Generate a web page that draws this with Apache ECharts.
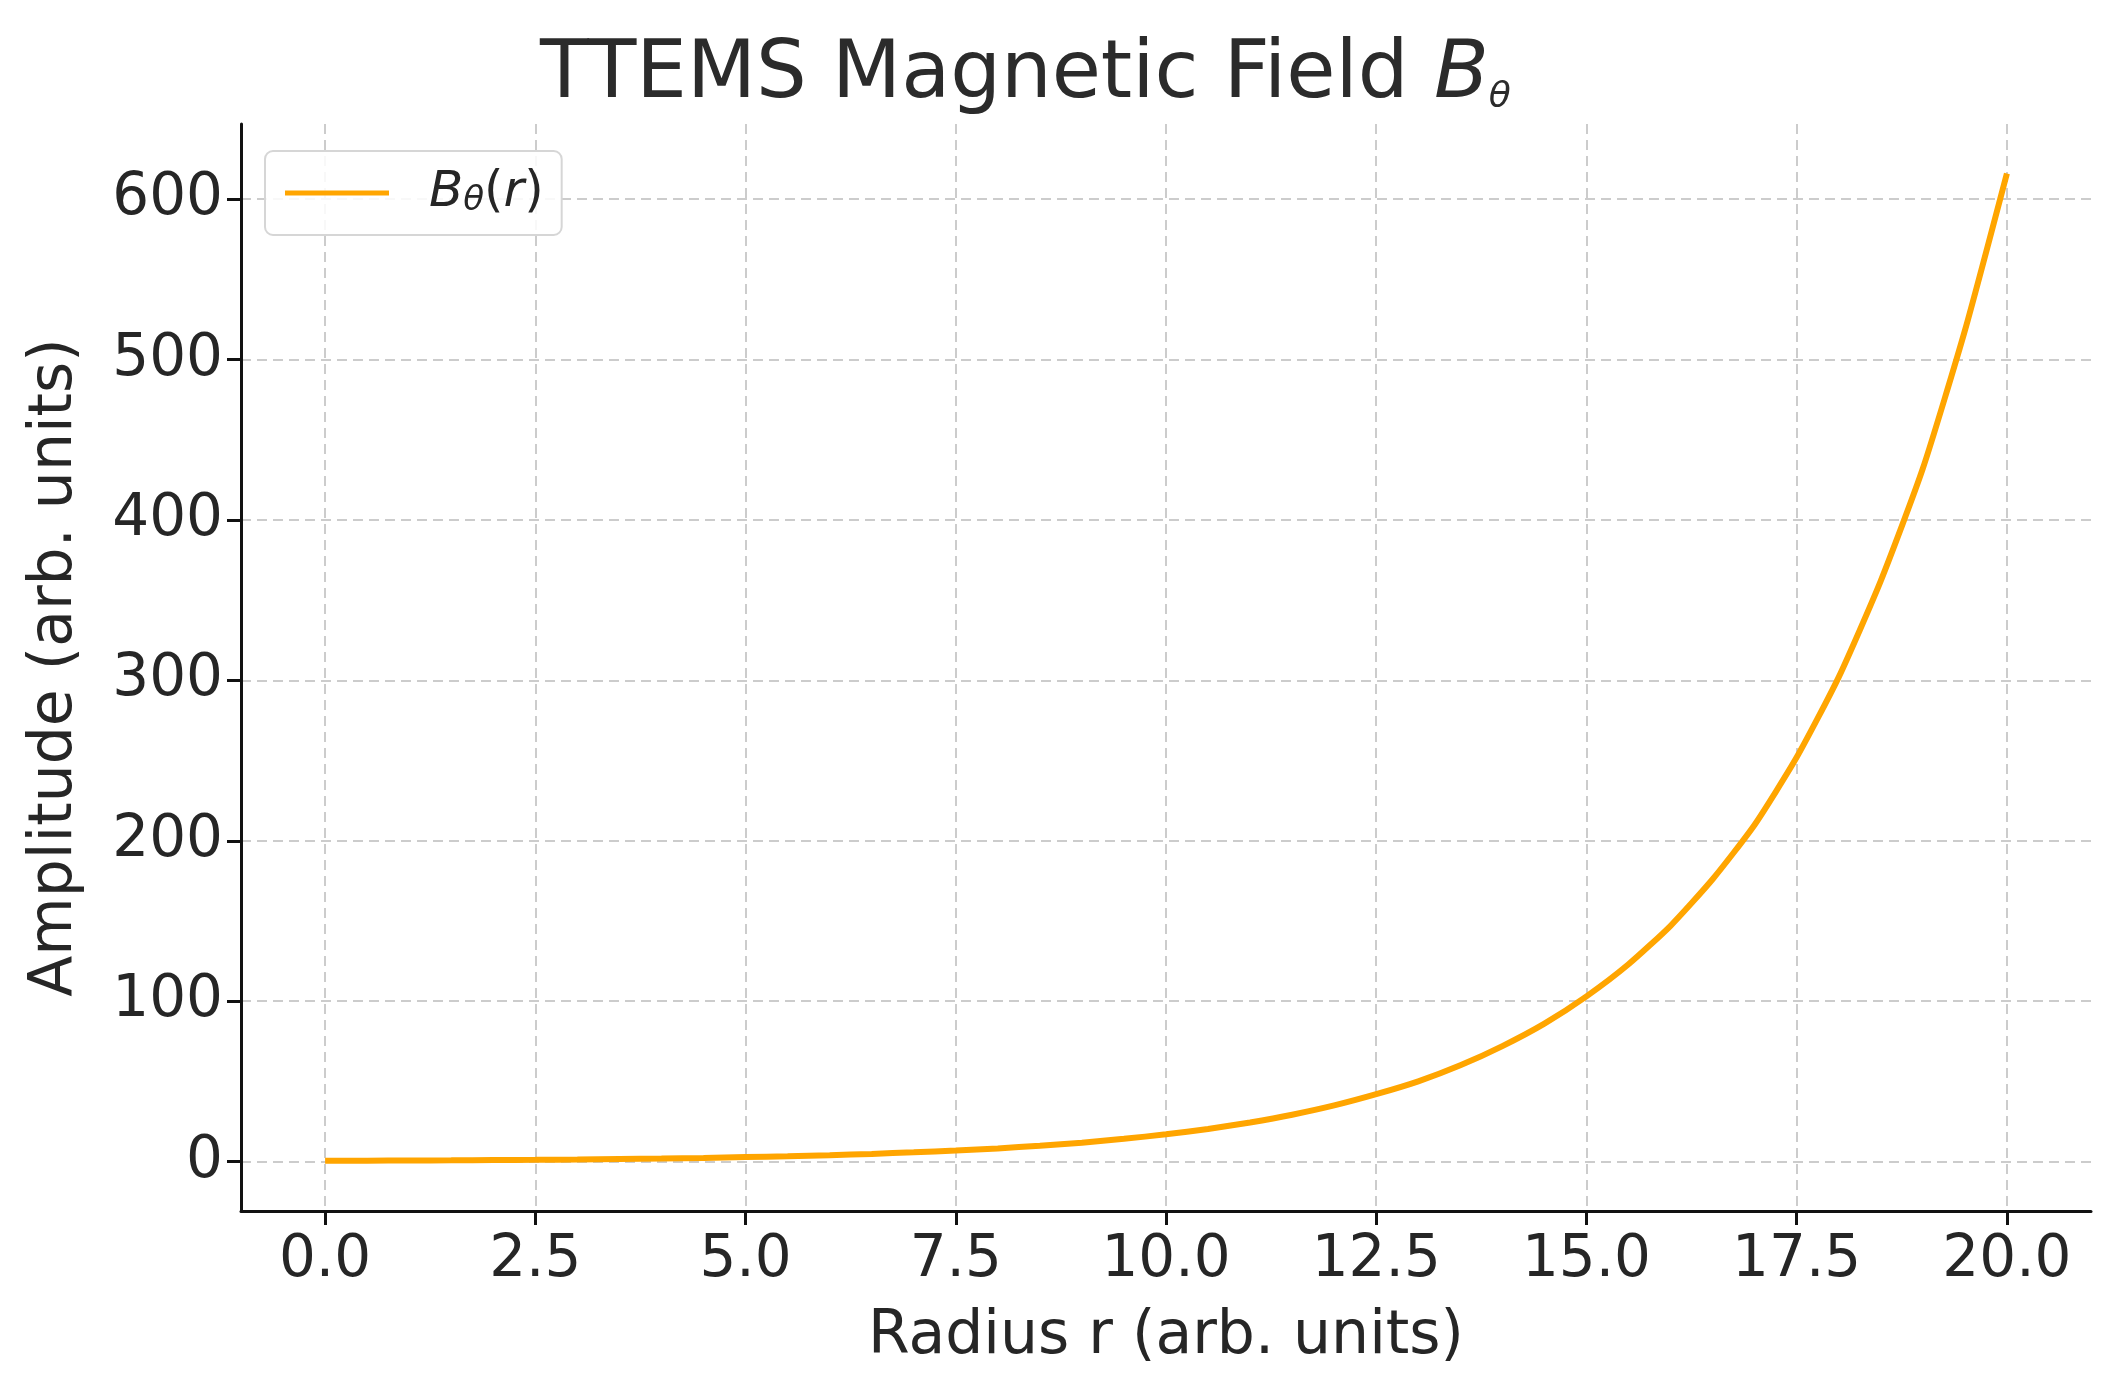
<!DOCTYPE html>
<html>
<head>
<meta charset="utf-8">
<script src="https://cdn.jsdelivr.net/npm/echarts@6/dist/echarts.min.js"></script>
<style>
  html, body { margin: 0; padding: 0; background: #fff; }
  #chart { width: 2125px; height: 1376px; }
</style>
</head>
<body>
<div id="chart"></div>
<script>
// radius r (arb. units)
var radius = [0, 0.5, 1, 1.5, 2, 2.5, 3, 3.5, 4, 4.5, 5, 5.5, 6, 6.5, 7, 7.5, 8, 8.5, 9, 9.5,
              10, 10.5, 11, 11.5, 12, 12.5, 13, 13.5, 14, 14.5, 15, 15.5, 16, 16.5, 17, 17.5,
              18, 18.5, 19, 19.5, 20];
// B_theta(r)
var bTheta = [0.5, 0.6, 0.7, 0.8, 0.95, 1.1, 1.3, 1.6, 1.9, 2.3, 2.8, 3.3, 4.0, 4.8, 5.8, 6.9,
              8.2, 9.9, 11.8, 14.2, 17.0, 20.3, 24.4, 29.2, 35, 42, 50, 60, 72, 86, 103, 123,
              147, 176, 210, 252, 302, 362, 432, 518, 616];
var xTicks = [0, 2.5, 5, 7.5, 10, 12.5, 15, 17.5, 20];
var yTicks = [0, 100, 200, 300, 400, 500, 600];

var font = 'DejaVu Sans';
var ink = '#262626';

var points = radius.map(function (r, i) { return [r, bTheta[i]]; });

var gridLine = {
    show: true,
    lineStyle: { color: '#cccccc', width: 2, type: [10, 6] }
};

var chart = echarts.init(document.getElementById('chart'));
chart.setOption({
    backgroundColor: '#fff',
    animation: false,
    title: {
        text: '{t|TTEMS Magnetic Field }{b|B}{s|θ}',
        left: 540,
        top: 36,
        padding: 0,
        textStyle: {
            rich: {
                t: { fontFamily: font, fontSize: 80, fontWeight: 'normal', color: '#2b2b2b' },
                b: { fontFamily: font, fontSize: 80, fontWeight: 'normal', fontStyle: 'italic', color: '#2b2b2b' },
                s: { fontFamily: font, fontSize: 36, fontWeight: 'normal', fontStyle: 'italic', color: '#2b2b2b', verticalAlign: 'bottom' }
            }
        }
    },
    legend: {
        left: 265,
        top: 151,
        orient: 'vertical',
        padding: [17, 18, 17, 20],
        borderColor: '#d6d6d6',
        borderWidth: 2,
        borderRadius: 8,
        backgroundColor: 'rgba(255,255,255,0.85)',
        itemWidth: 104,
        itemHeight: 5,
        icon: 'rect',
        data: ['B_theta'],
        formatter: function () { return '{b|B}{s|θ}{n|(}{b|r}{n|)}'; },
        textStyle: {
            padding: [0, 0, 0, 35],
            rich: {
                b: { fontFamily: font, fontSize: 50, fontStyle: 'italic', color: ink },
                s: { fontFamily: font, fontSize: 34, fontStyle: 'italic', color: ink, verticalAlign: 'bottom' },
                n: { fontFamily: font, fontSize: 50, color: ink }
            }
        }
    },
    grid: { left: 241, right: 34, top: 124, bottom: 165, containLabel: false },
    xAxis: {
        type: 'value',
        min: -1,
        max: 21,
        name: 'Radius r (arb. units)',
        nameLocation: 'middle',
        nameGap: 96,
        nameTextStyle: { fontFamily: font, fontSize: 60, color: ink },
        axisLine: { show: true, onZero: false, lineStyle: { color: '#111', width: 3 } },
        axisTick: { show: true, length: 14, customValues: xTicks, lineStyle: { color: '#111', width: 3 } },
        axisLabel: {
            customValues: xTicks,
            margin: 21,
            fontFamily: font, fontSize: 58, color: ink,
            formatter: function (v) { return v.toFixed(1); }
        },
        splitLine: gridLine
    },
    yAxis: {
        type: 'value',
        min: -30.8,
        max: 646.8,
        name: 'Amplitude (arb. units)',
        nameLocation: 'middle',
        nameGap: 156,
        nameTextStyle: { fontFamily: font, fontSize: 60, color: ink },
        axisLine: { show: true, onZero: false, lineStyle: { color: '#111', width: 3 } },
        axisTick: { show: true, length: 14, customValues: yTicks, lineStyle: { color: '#111', width: 3 } },
        axisLabel: {
            customValues: yTicks,
            margin: 18,
            fontFamily: font, fontSize: 58, color: ink
        },
        splitLine: gridLine
    },
    series: [{
        name: 'B_theta',
        type: 'line',
        data: points,
        showSymbol: false,
        symbol: 'none',
        smooth: 0.2,
        color: '#ffa500',
        lineStyle: { color: '#ffa500', width: 6 }
    }]
});
</script>
</body>
</html>
